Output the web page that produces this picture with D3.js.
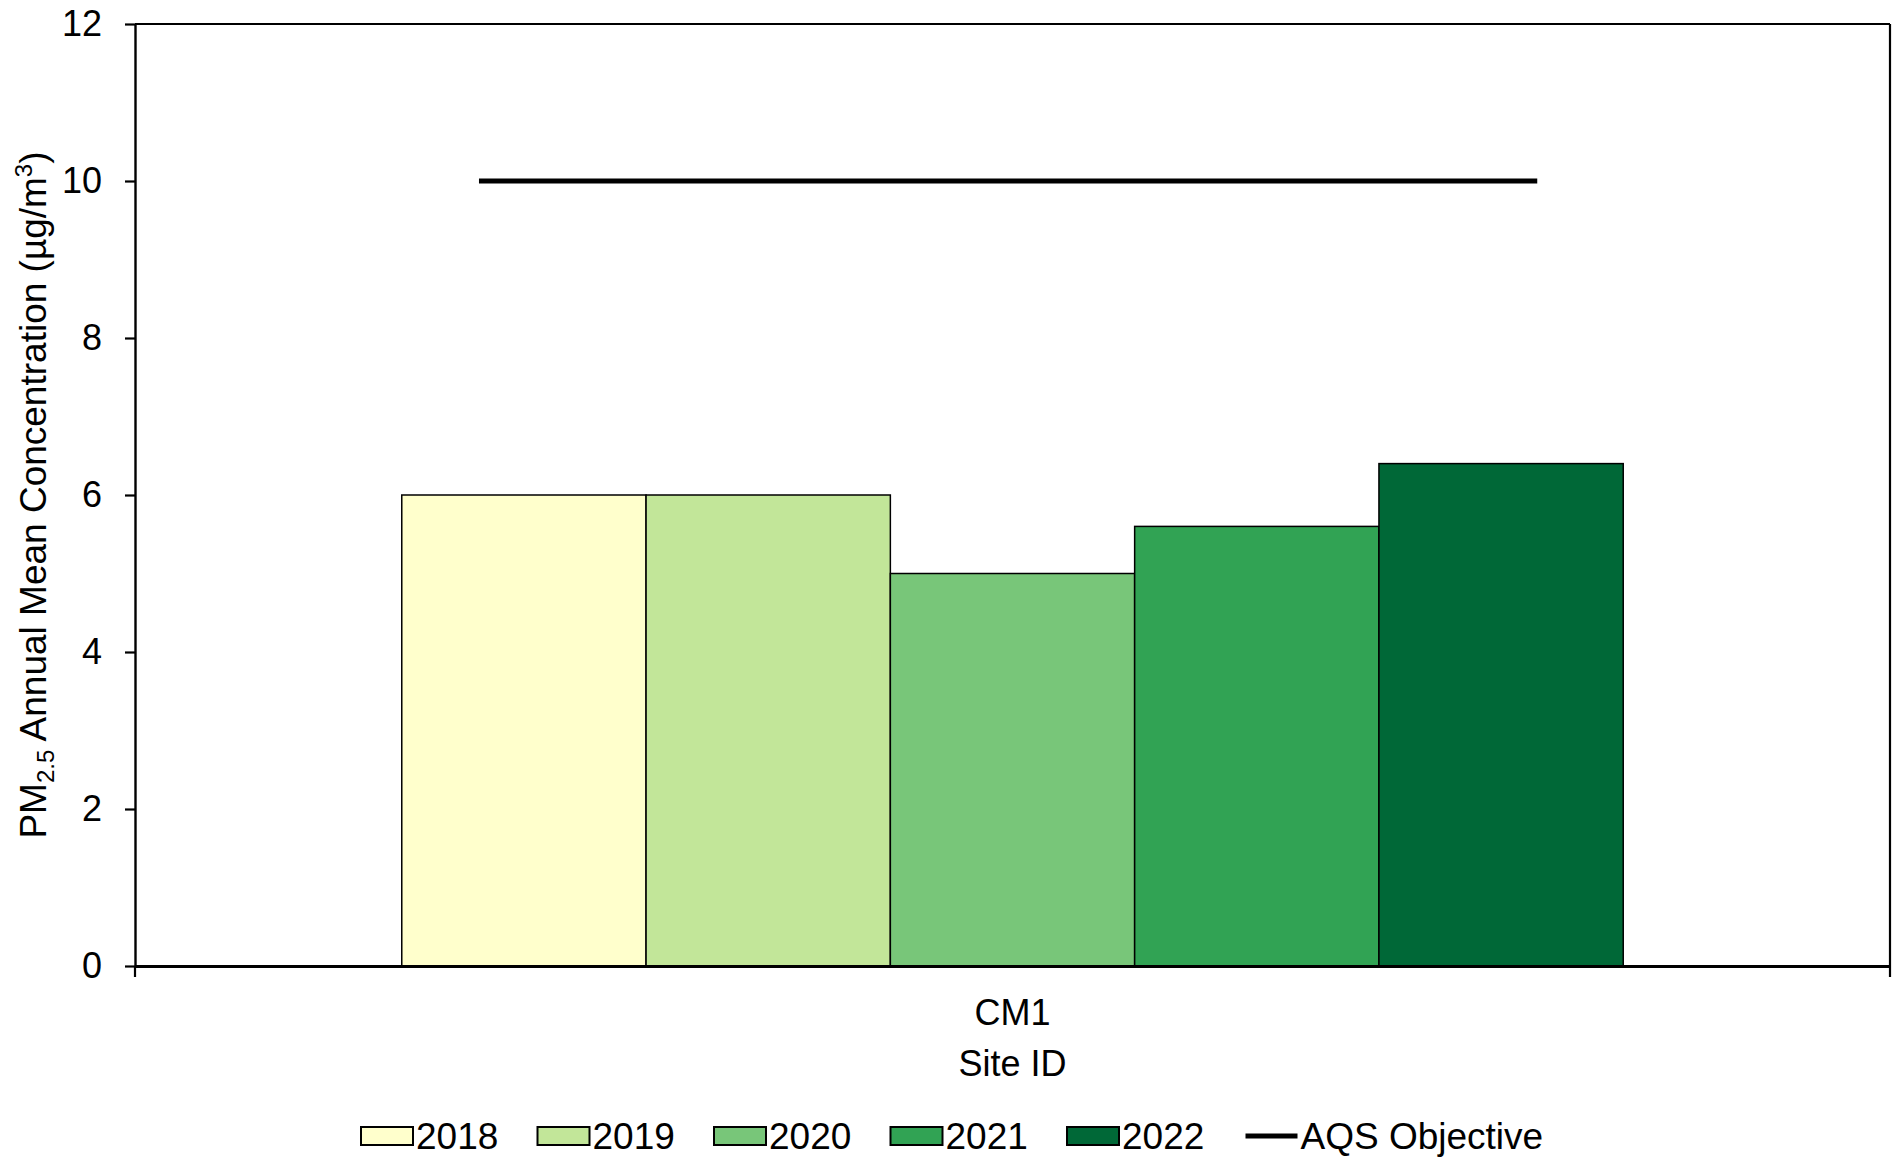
<!DOCTYPE html>
<html>
<head>
<meta charset="utf-8">
<script src="https://cdn.jsdelivr.net/npm/d3@7"></script>
<style>
  html, body { margin: 0; padding: 0; background: #fff; }
  svg { display: block; font-family: "Liberation Sans", Arial, sans-serif; }
</style>
</head>
<body>
<svg id="chart" width="1892" height="1158"></svg>
<script>
// ---- data ----
const sites = ["CM1"];
const years = ["2018", "2019", "2020", "2021", "2022"];
const values = [6.0, 6.0, 5.0, 5.6, 6.4];
const colors = ["#FFFFCC", "#C2E699", "#78C679", "#31A354", "#006837"];
const yTicks = [0, 2, 4, 6, 8, 10, 12];
const aqsObjective = 10;
const aqsExtent = [0.196, 0.799]; // fraction of plot width
const xTitle = "Site ID";
const legendLineLabel = "AQS Objective";

// ---- layout ----
const W = 1892, H = 1158;
const m = { left: 135, right: 2, top: 24, bottom: 192 };
const pw = W - m.left - m.right;
const ph = H - m.top - m.bottom;
const FS = 36;
const FS2 = 37;

const svg = d3.select("#chart");
const g = svg.append("g").attr("transform", `translate(${m.left},${m.top})`);

const x0 = d3.scaleBand().domain(sites).range([0, pw]).paddingInner(0).paddingOuter(0.2184);
const x1 = d3.scaleBand().domain(years).range([0, x0.bandwidth()]).padding(0);
const y = d3.scaleLinear().domain([0, 12]).range([ph, 0]);
const xf = d3.scaleLinear().domain([0, 1]).range([0, pw]);

// border (top, right)
g.append("line").attr("x1", 0).attr("x2", pw).attr("y1", 0).attr("y2", 0)
  .attr("stroke", "#000").attr("stroke-width", 2.2);
g.append("line").attr("x1", pw).attr("x2", pw).attr("y1", 0).attr("y2", ph)
  .attr("stroke", "#000").attr("stroke-width", 2.2);

// bars
const rows = years.map((yr, i) => ({ site: sites[0], year: yr, value: values[i], color: colors[i] }));
g.append("g").selectAll("rect").data(rows).join("rect")
  .attr("x", d => x0(d.site) + x1(d.year))
  .attr("y", d => y(d.value))
  .attr("width", x1.bandwidth())
  .attr("height", d => y(0) - y(d.value))
  .attr("fill", d => d.color)
  .attr("stroke", "#000")
  .attr("stroke-width", 1.5);

// AQS objective line
g.append("line")
  .attr("x1", xf(aqsExtent[0])).attr("x2", xf(aqsExtent[1]))
  .attr("y1", y(aqsObjective)).attr("y2", y(aqsObjective))
  .attr("stroke", "#000").attr("stroke-width", 5);

// y axis
const ya = g.append("g").call(d3.axisLeft(y).tickValues(yTicks).tickSize(10).tickSizeOuter(0).tickPadding(23));
ya.select(".domain").attr("stroke-width", 2.4);
ya.selectAll(".tick line").attr("stroke-width", 2.2);
ya.selectAll(".tick text").attr("font-size", FS).attr("fill", "#000")
  .attr("font-family", "Liberation Sans, Arial, sans-serif");

// x axis
const xa = g.append("g").attr("transform", `translate(0,${ph})`)
  .call(d3.axisBottom(x0).tickSize(0).tickPadding(33));
xa.select(".domain").attr("stroke-width", 3);
xa.selectAll(".tick text").attr("font-size", FS).attr("fill", "#000")
  .attr("font-family", "Liberation Sans, Arial, sans-serif");
// category boundary ticks
g.append("g").selectAll("line").data([0, pw]).join("line")
  .attr("x1", d => d).attr("x2", d => d).attr("y1", ph).attr("y2", ph + 11)
  .attr("stroke", "#000").attr("stroke-width", 2.2);

// x title
g.append("text").attr("x", x0(sites[0]) + x0.bandwidth() / 2).attr("y", ph + 110)
  .attr("text-anchor", "middle").attr("font-size", FS).text(xTitle);

// y title
const yt = svg.append("text")
  .attr("transform", `translate(46,${m.top + ph / 2}) rotate(-90)`)
  .attr("text-anchor", "middle").attr("font-size", FS2);
yt.append("tspan").text("PM");
yt.append("tspan").attr("font-size", FS2 * 0.65).attr("dy", 8).text("2.5");
yt.append("tspan").attr("dy", -8).text(" Annual Mean Concentration (µg/m");
yt.append("tspan").attr("font-size", FS2 * 0.65).attr("dy", -14).text("3");
yt.append("tspan").attr("dy", 14).text(")");

// legend
const legY = 1136;
const legX0 = 361, legStep = 176.5;
const leg = svg.append("g");
years.forEach((yr, i) => {
  const lx = legX0 + i * legStep;
  leg.append("rect").attr("x", lx).attr("y", legY - 9).attr("width", 52).attr("height", 18)
    .attr("fill", colors[i]).attr("stroke", "#000").attr("stroke-width", 2);
  leg.append("text").attr("x", lx + 55).attr("y", legY).attr("dy", "0.35em")
    .attr("font-size", FS2).text(yr);
});
const lx = legX0 + years.length * legStep;
leg.append("line").attr("x1", lx + 2).attr("x2", lx + 54).attr("y1", legY).attr("y2", legY)
  .attr("stroke", "#000").attr("stroke-width", 5);
leg.append("text").attr("x", lx + 57).attr("y", legY).attr("dy", "0.35em")
  .attr("font-size", FS2).text(legendLineLabel);
</script>
</body>
</html>
